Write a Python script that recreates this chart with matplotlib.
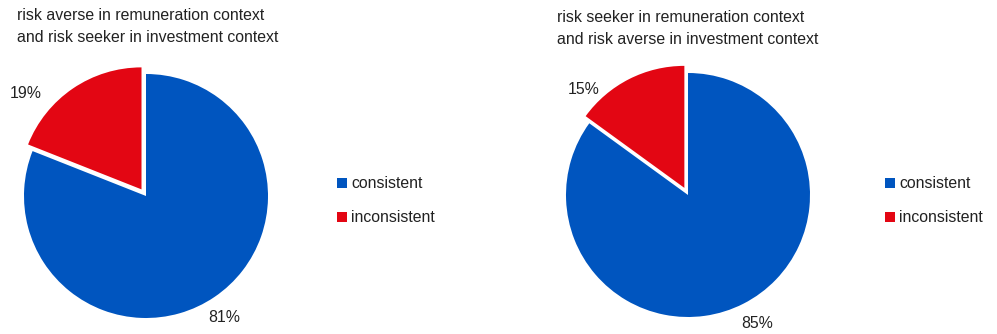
import matplotlib.pyplot as plt

# shares of respondents per group
categories = ["consistent", "inconsistent"]
left_values = [81, 19]
right_values = [85, 15]
left_title = "risk averse in remuneration context\nand risk seeker in investment context"
right_title = "risk seeker in remuneration context\nand risk averse in investment context"

BLUE = "#0055bf"
RED = "#e30613"
W, H = 997, 334
FS = 11.4

plt.rcParams["font.family"] = ["Liberation Sans", "DejaVu Sans"]

fig = plt.figure(figsize=(W / 100, H / 100), dpi=100)
ax = fig.add_axes([0, 0, 1, 1])


def draw_panel(values, title, cx, cy, title_x, title_y, label_pos, legend_x):
    # explode is in data units here (pixels), since the axes use a pixel frame
    ax.pie(values, colors=[BLUE, RED], startangle=90, counterclock=False,
           center=(cx, cy), radius=122, explode=[0, 8],
           wedgeprops=dict(linewidth=0))
    ax.text(title_x, H - title_y, title, fontsize=FS, color="#222222",
            va="top", ha="left", linespacing=1.6)
    for v, (dx, dy) in zip(values, label_pos):
        ax.text(cx + dx, cy + dy, f"{v}%", fontsize=FS, color="#222222",
                ha="center", va="center")
    for i, (name, col) in enumerate(zip(categories, [BLUE, RED])):
        y = H - 183 - i * 34
        ax.add_patch(plt.Rectangle((legend_x, y - 5), 10, 10, color=col, lw=0))
        ax.text(legend_x + 14, y, name, fontsize=FS, color="#222222",
                ha="left", va="center")


draw_panel(left_values, left_title, 146, H - 196, 17, 8,
           [(78, -122), (-120, 102)], 337)
draw_panel(right_values, right_title, 688, H - 195, 557, 10,
           [(69, -128), (-104, 105)], 885)

# pie() rescales the axes, so fix the pixel frame afterwards
ax.set_xlim(0, W)
ax.set_ylim(0, H)
ax.set_aspect("equal")
ax.axis("off")

fig.savefig("out.png", dpi=100)
